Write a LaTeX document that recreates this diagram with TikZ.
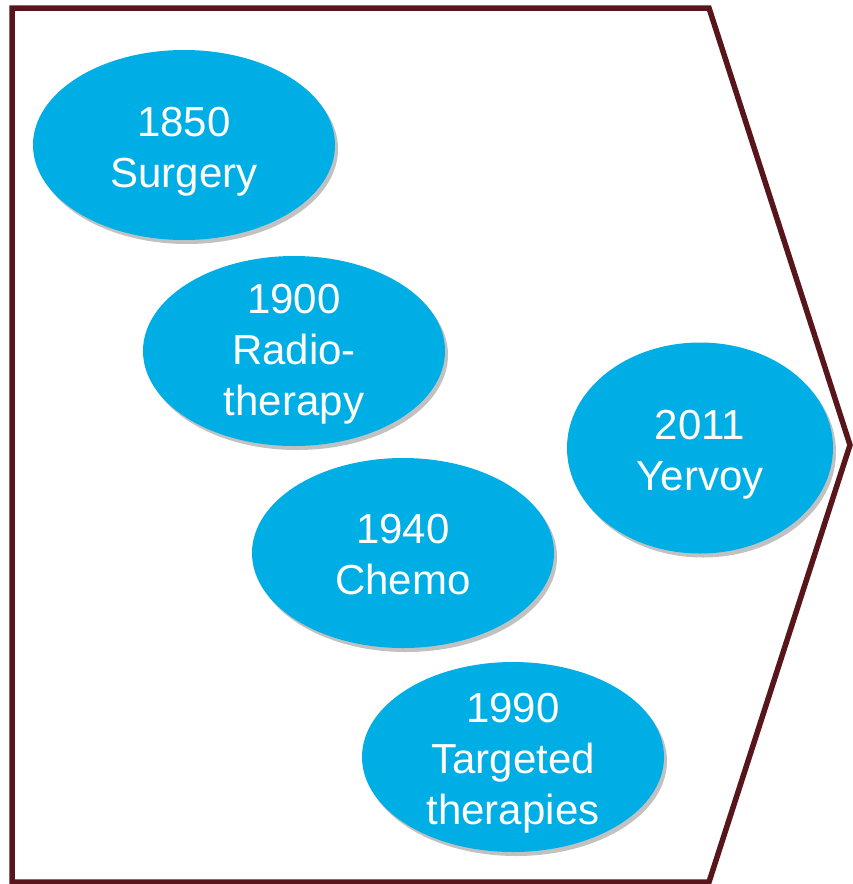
\documentclass[tikz,border=0pt]{standalone}
\usepackage{fontspec}
\setmainfont{Liberation Sans}
\usepackage{tikz}
\usetikzlibrary{shapes.geometric}
\usetikzlibrary{shadows}
\definecolor{eracyan}{RGB}{0,174,230}
\definecolor{framered}{RGB}{88,22,28}
\tikzset{
    era/.style={ellipse, fill=eracyan, draw=none, inner sep=0pt,
        minimum width=302pt, minimum height=190pt,
        drop shadow={shadow xshift=3pt, shadow yshift=-4pt, opacity=0.35, fill=black!70}},
    eratext/.style={text=white, align=center, inner sep=0pt,
        font=\fontsize{42}{51}\selectfont},
    frame/.style={draw=framered, line width=5.5pt, line join=miter},
}

\begin{document}
\begin{tikzpicture}[x=1pt, y=-1pt]
    \useasboundingbox (0,0) rectangle (853,884);
	\draw[frame] (12,8)--(709,8)--(850,445)--(709,882)--(12,882)--cycle;
	% eras
	\node[era] (surgery) at (184,145) {};
	\node[eratext] (surgerytxt) at ([yshift=-7pt]surgery) {1850\\Surgery};
	\node[era] (radio) at (294,351) {};
	\node[eratext] (radiotxt) at ([yshift=-3pt]radio) {1900\\Radio-\\therapy};
	\node[era] (chemo) at (403,553) {};
	\node[eratext] (chemotxt) at ([yshift=-2pt]chemo) {1940\\Chemo};
	\node[era] (targeted) at (513,757) {};
	\node[eratext] (targetedtxt) at ([yshift=-6pt]targeted) {1990\\Targeted\\therapies};
	\node[era, minimum width=266pt, minimum height=211pt] (yervoy) at (700,448) {};
	\node[eratext] (yervoytxt) at ([yshift=-7pt]yervoy) {2011\\Yervoy};
\end{tikzpicture}
\end{document}
